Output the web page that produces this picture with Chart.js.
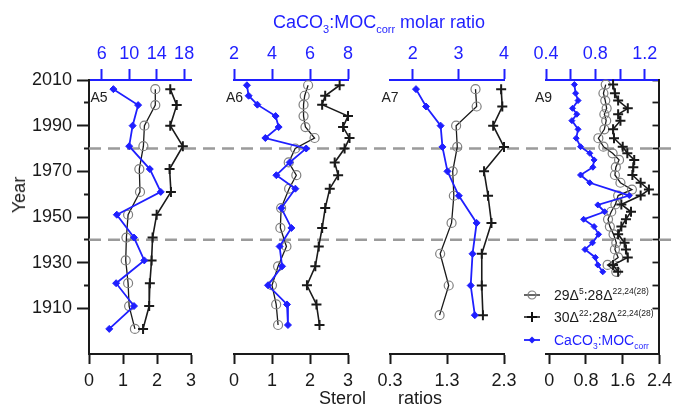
<!DOCTYPE html>
<html><head><meta charset="utf-8">
<script src="https://cdn.jsdelivr.net/npm/chart.js@4.4.0/dist/chart.umd.min.js"></script>
<style>
html,body{margin:0;padding:0;background:#fff;}
#wrap{position:relative;width:678px;height:414px;overflow:hidden;font-family:'Liberation Sans',Arial,sans-serif;color:#1a1a1a;}
canvas{position:absolute;top:0;}
.lbl{position:absolute;white-space:nowrap;line-height:1;}
.lbl sub,.lbl sup{line-height:0;}
.leg{position:absolute;left:554px;height:18px;line-height:18px;font-size:14px;white-space:nowrap;}
.leg sup,.leg sub{font-size:8.5px;line-height:0;}
.sym{position:absolute;left:524px;}
</style></head><body>
<div id="wrap">
  <canvas id="c1" width="212" height="414" style="left:0px"></canvas>
  <canvas id="c2" width="157" height="414" style="left:212px"></canvas>
  <canvas id="c3" width="156" height="414" style="left:369px"></canvas>
  <canvas id="c4" width="153" height="414" style="left:525px"></canvas>

  <div class="lbl" style="left:273px;top:12.5px;font-size:18px;color:#1f1fff;">CaCO<sub style="font-size:11px">3</sub>:MOC<sub style="font-size:11px">corr</sub> molar ratio</div>
  <div class="lbl" style="left:18.8px;top:194.5px;font-size:18px;transform:translate(-50%,-50%) rotate(-90deg);">Year</div>
  <div class="lbl" style="left:319px;top:388.5px;font-size:18px;">Sterol</div>
  <div class="lbl" style="left:398px;top:388.5px;font-size:18px;">ratios</div>

  <div class="lbl" style="left:90.5px;top:90px;font-size:14px;color:#222;">A5</div>
  <div class="lbl" style="left:226px;top:90px;font-size:14px;color:#222;">A6</div>
  <div class="lbl" style="left:381.5px;top:90px;font-size:14px;color:#222;">A7</div>
  <div class="lbl" style="left:535px;top:90px;font-size:14px;color:#222;">A9</div>

  <svg class="sym" style="top:289px" width="16" height="12"><line x1="0" y1="6" x2="16" y2="6" stroke="#111" stroke-width="1.3"/><circle cx="8" cy="6" r="4" fill="none" stroke="#7f7f7f" stroke-width="1.2"/></svg>
  <div class="leg" style="top:286px">29Δ<sup>5</sup>:28Δ<sup>22,24(28)</sup></div>
  <svg class="sym" style="top:311.3px" width="16" height="12"><line x1="0" y1="6" x2="16" y2="6" stroke="#111" stroke-width="1.5"/><path d="M3 6H13M8 1V11" stroke="#111" stroke-width="2" fill="none"/></svg>
  <div class="leg" style="top:308.3px">30Δ<sup>22</sup>:28Δ<sup>22,24(28)</sup></div>
  <svg class="sym" style="top:334px" width="16" height="12"><line x1="0" y1="6" x2="16" y2="6" stroke="#1f1fff" stroke-width="1.8"/><polygon points="8,2.5 11.5,6 8,9.5 4.5,6" fill="#1f1fff"/></svg>
  <div class="leg" style="top:331px;color:#1f1fff">CaCO<sub>3</sub>:MOC<sub>corr</sub></div>
</div>
<script>
// ---------- axis ticks ----------
const yearTicks = [1910, 1920, 1930, 1940, 1950, 1960, 1970, 1980, 1990, 2000, 2010];
const yearLabels = [1910, 1930, 1950, 1970, 1990, 2010];
const refYears = [1980, 1940];

// ---------- A5 ----------
const a5Years = [2006, 1999, 1990, 1981, 1971, 1961, 1951, 1941, 1931, 1921, 1911, 1901];
const a5Ratio29 = [1.95, 1.95, 1.63, 1.60, 1.48, 1.50, 1.15, 1.10, 1.08, 1.15, 1.18, 1.35];
const a5Ratio30 = [2.39, 2.58, 2.39, 2.76, 2.37, 2.41, 1.99, 1.87, 1.84, 1.79, 1.77, 1.59];
const a5CaMoc = [7.7, 11.3, 10.5, 10.0, 13.0, 14.6, 8.2, 10.7, 12.2, 8.1, 10.7, 7.1];
const a5BottomTicks = [0, 1, 2, 3];
const a5TopTicks = [6, 10, 14, 18];

// ---------- A6 ----------
const a6Years = [2007.7, 2003.1, 1999.2, 1994.2, 1989.4, 1984.6, 1980, 1973.9, 1968.3, 1962.4, 1953.9, 1945.2, 1937.1, 1928.4, 1920.1, 1911.7, 1902.7];
const a6Ratio29 = [1.95, 1.86, 1.83, 1.83, 1.88, 2.12, 1.61, 1.44, 1.64, 1.45, 1.24, 1.22, 1.38, 1.16, 1.00, 1.11, 1.16];
const a6Ratio30 = [2.78, 2.40, 2.32, 3.00, 2.87, 3.04, 2.91, 2.65, 2.74, 2.52, 2.40, 2.32, 2.23, 2.14, 1.92, 2.17, 2.25];
const a6CaMoc = [2.68, 2.77, 3.23, 4.19, 4.35, 3.65, 5.80, 4.93, 4.23, 5.23, 4.49, 5.02, 4.40, 4.53, 3.79, 4.79, 4.84];
const a6BottomTicks = [0, 1, 2, 3];
const a6TopTicks = [2, 4, 6, 8];

// ---------- A7 ----------
const a7Years = [2006, 1998.4, 1990, 1980.7, 1970, 1959.3, 1947.4, 1933.9, 1920, 1907];
const a7Ratio29 = [1.80, 1.82, 1.46, 1.48, 1.40, 1.42, 1.38, 1.18, 1.33, 1.17];
const a7Ratio30 = [2.25, 2.27, 2.11, 2.30, 1.95, 2.02, 2.08, 1.91, 1.91, 1.93];
const a7CaMoc = [2.07, 2.29, 2.61, 2.65, 2.76, 3.01, 3.40, 3.31, 3.27, 3.36];
const a7BottomTicks = [0.3, 1.3, 2.3];
const a7TopTicks = [2, 3, 4];

// ---------- A9 ----------
const a9Years = [2008, 2004.2, 2001, 1997.6, 1995, 1992.2, 1988.4, 1984.5, 1980.8, 1977.9, 1975, 1971.8, 1968.4, 1965, 1962, 1959.4, 1955.5, 1952.3, 1949, 1945.8, 1942.4, 1938.7, 1935.8, 1932.3, 1929, 1926];
const a9Ratio29 = [1.23, 1.18, 1.22, 1.25, 1.20, 1.24, 1.20, 1.07, 1.18, 1.38, 1.52, 1.45, 1.43, 1.55, 1.80, 1.50, 1.44, 1.35, 1.28, 1.32, 1.40, 1.46, 1.43, 1.50, 1.27, 1.46];
const a9Ratio30 = [1.39, 1.43, 1.50, 1.71, 1.50, 1.55, 1.39, 1.41, 1.60, 1.70, 1.85, 1.83, 1.81, 1.99, 2.17, 1.99, 1.57, 1.78, 1.67, 1.57, 1.50, 1.64, 1.67, 1.71, 1.39, 1.50];
const a9BlueYears = [2008, 2004.2, 2001, 1997.6, 1995, 1992.2, 1988.4, 1984.5, 1980.8, 1977.9, 1975, 1971.8, 1968.4, 1965, 1959.4, 1955.3, 1952.3, 1949, 1945.8, 1942.4, 1938.7, 1935.8, 1932.3, 1929, 1926];
const a9CaMoc = [0.63, 0.64, 0.66, 0.615, 0.65, 0.61, 0.66, 0.645, 0.68, 0.755, 0.79, 0.78, 0.68, 0.755, 1.075, 0.82, 0.875, 0.705, 0.79, 0.826, 0.777, 0.716, 0.80, 0.82, 0.86];
const a9BottomTicks = [0, 0.8, 1.6, 2.4];
const a9TopTicks = [0.4, 0.6, 0.8, 1.0, 1.2];
const a9TopLabels = [0.4, 0.8, 1.2];

// ---------- styling ----------
const BLUE = '#1f1fff';
const INK = '#1a1a1a';
Chart.defaults.font.family = "'Liberation Sans', Arial, sans-serif";

const refLinesPlugin = {
  id: 'refLines',
  beforeDatasetsDraw(chart, args, opts) {
    const {ctx, chartArea, scales} = chart;
    const startX = opts.fromArea ? chartArea.left : 0;
    ctx.save();
    ctx.strokeStyle = '#9b9b9b';
    ctx.lineWidth = 2.5;
    ctx.setLineDash([12, 7]);
    ctx.lineDashOffset = opts.canvasLeft + startX - 89;
    refYears.forEach(yr => {
      const py = scales.y.getPixelForValue(yr);
      ctx.beginPath();
      ctx.moveTo(startX, py);
      ctx.lineTo(chart.width, py);
      ctx.stroke();
    });
    ctx.restore();
  }
};

function pts(years, vals) { return vals.map((v, i) => ({x: v, y: years[i]})); }

function makePanel(id, p) {
  const yScale = {
    type: 'linear', position: 'left', min: 1890, max: 2010, display: !!p.first,
    afterBuildTicks: s => { s.ticks = yearTicks.map(v => ({value: v})); },
    afterFit: s => { s.width = p.first ? 89 : 0; },
    ticks: {autoSkip: false, color: INK, font: {size: 18}, padding: 5,
      callback: v => yearLabels.includes(v) ? String(v) : ''},
    grid: {drawOnChartArea: false, drawTicks: true, tickLength: 12, tickWidth: 2, tickColor: INK,
      tickBorderDash: c => (c.tick && yearLabels.includes(c.tick.value)) ? [] : [0, 7, 5, 40]},
    border: {display: true, color: INK, width: 2}
  };
  const scales = {
    xb: {
      type: 'linear', position: 'bottom', min: p.bMin, max: p.bMax,
      afterBuildTicks: s => { s.ticks = p.bTicks.map(v => ({value: v})); },
      afterFit: s => { s.height = 60; },
      ticks: {autoSkip: false, maxRotation: 0, color: INK, font: {size: 18}, padding: 6,
        callback: v => String(v)},
      grid: {drawOnChartArea: false, drawTicks: true, tickLength: 10, tickWidth: 2, tickColor: INK},
      border: {display: true, color: INK, width: 2}
    },
    xt: {
      type: 'linear', position: 'top', min: p.tMin, max: p.tMax,
      afterBuildTicks: s => { s.ticks = p.tTicks.map(v => ({value: v})); },
      afterFit: s => { s.height = 80; },
      ticks: {autoSkip: false, maxRotation: 0, color: BLUE, font: {size: 18}, padding: 4,
        callback: v => (p.tLabels ? (p.tLabels.some(l => Math.abs(l - v) < 1e-9) ? String(v) : '') : String(v))},
      grid: {drawOnChartArea: false, drawTicks: true, tickLength: 11, tickWidth: 2, tickColor: BLUE},
      border: {display: true, color: BLUE, width: 2}
    },
    y: yScale
  };
  if (p.rightAxis) {
    scales.yr = {
      type: 'linear', position: 'right', min: 1890, max: 2010,
      afterBuildTicks: s => { s.ticks = yearTicks.map(v => ({value: v})); },
      afterFit: s => { s.width = 0; },
      ticks: {display: false},
      grid: {drawOnChartArea: false, drawTicks: true, tickLength: -7, tickWidth: 1.8, tickColor: INK},
      border: {display: true, color: INK, width: 2}
    };
  }
  const datasets = [
    {
      label: 'CaCO3:MOCcorr', data: pts(p.blueYears, p.blue), xAxisID: 'xt', yAxisID: 'y',
      showLine: true, borderColor: BLUE, borderWidth: 1.8, pointStyle: 'rectRot',
      pointRadius: p.blueR, pointBackgroundColor: BLUE, pointBorderColor: BLUE, pointBorderWidth: 1, clip: false
    },
    {
      label: '30', data: pts(p.years, p.r30), xAxisID: 'xb', yAxisID: 'y',
      showLine: true, borderColor: INK, borderWidth: 1.6, pointStyle: 'cross',
      pointRadius: p.crossR, pointBorderColor: INK, pointBorderWidth: 2, clip: false
    },
    {
      label: '29', data: pts(p.years, p.r29), xAxisID: 'xb', yAxisID: 'y',
      showLine: true, borderColor: INK, borderWidth: 1.3, pointStyle: 'circle',
      pointRadius: p.circR, pointBorderColor: '#7f7f7f', pointBackgroundColor: 'rgba(0,0,0,0)',
      pointBorderWidth: 1.2, clip: false
    }
  ];
  return new Chart(document.getElementById(id), {
    type: 'scatter',
    data: {datasets},
    options: {
      responsive: false, animation: false, events: [], devicePixelRatio: 1,
      layout: {padding: {left: p.padL, right: p.padR, top: 0, bottom: 0}},
      plugins: {legend: {display: false}, tooltip: {enabled: false},
        refLines: {fromArea: !!p.first, canvasLeft: p.canvasLeft}},
      scales
    },
    plugins: [refLinesPlugin]
  });
}

makePanel('c1', {first: true, canvasLeft: 0, padL: 0, padR: 21,
  years: a5Years, r29: a5Ratio29, r30: a5Ratio30, blueYears: a5Years, blue: a5CaMoc,
  bMin: 0, bMax: 3, bTicks: a5BottomTicks, tMin: 4.15, tMax: 19, tTicks: a5TopTicks,
  blueR: 3.5, crossR: 5, circR: 4.5});
makePanel('c2', {canvasLeft: 212, padL: 22, padR: 21,
  years: a6Years, r29: a6Ratio29, r30: a6Ratio30, blueYears: a6Years, blue: a6CaMoc,
  bMin: 0, bMax: 3, bTicks: a6BottomTicks, tMin: 2, tMax: 8, tTicks: a6TopTicks,
  blueR: 3.5, crossR: 5, circR: 4.5});
makePanel('c3', {canvasLeft: 369, padL: 21, padR: 21,
  years: a7Years, r29: a7Ratio29, r30: a7Ratio30, blueYears: a7Years, blue: a7CaMoc,
  bMin: 0.3, bMax: 2.3, bTicks: a7BottomTicks, tMin: 1.5, tMax: 4, tTicks: a7TopTicks,
  blueR: 3.5, crossR: 5, circR: 4.5});
makePanel('c4', {canvasLeft: 525, padL: 21, padR: 15, rightAxis: true,
  years: a9Years, r29: a9Ratio29, r30: a9Ratio30, blueYears: a9BlueYears, blue: a9CaMoc,
  bMin: -0.07, bMax: 2.4, bTicks: a9BottomTicks, tMin: 0.4, tMax: 1.32, tTicks: a9TopTicks, tLabels: a9TopLabels,
  blueR: 3, crossR: 5, circR: 4.5});
</script>
</body></html>
